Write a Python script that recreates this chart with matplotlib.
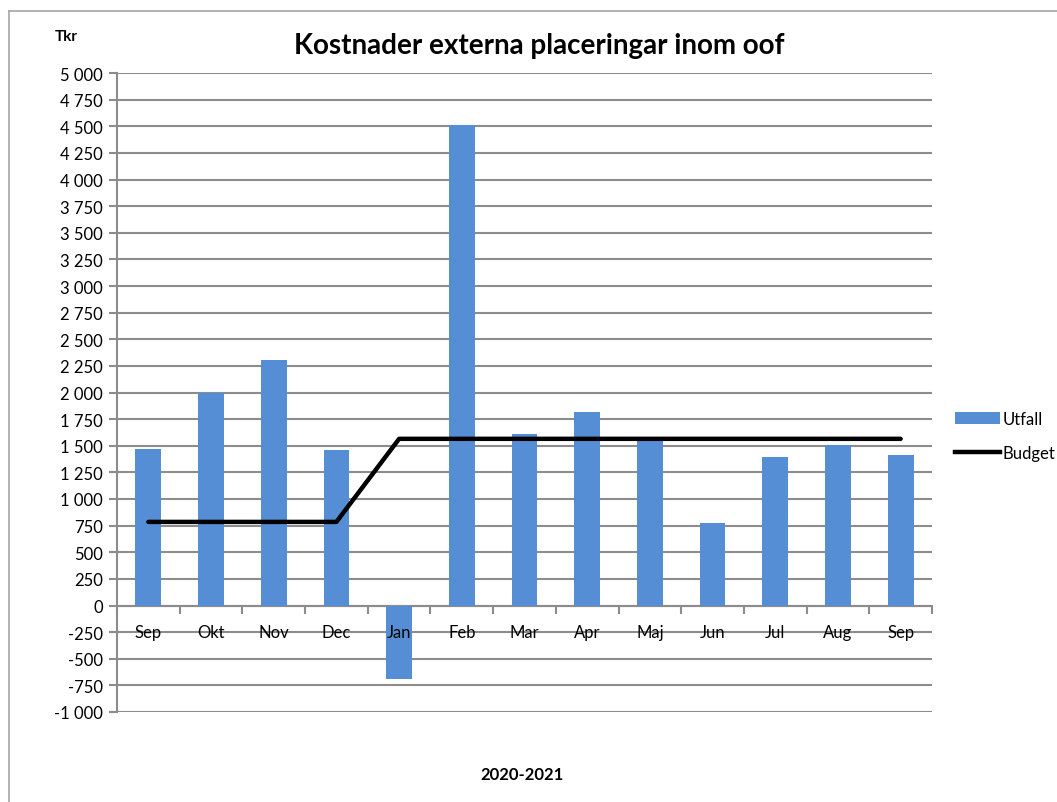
import matplotlib
matplotlib.use("Agg")
import matplotlib.pyplot as plt
from matplotlib.lines import Line2D
from matplotlib.patches import Patch
import numpy as np

categories = ["Sep", "Okt", "Nov", "Dec", "Jan", "Feb", "Mar", "Apr", "Maj", "Jun", "Jul", "Aug", "Sep"]
utfall = [1470, 2000, 2305, 1460, -690, 4510, 1610, 1820, 1565, 770, 1390, 1510, 1415]
budget = [785, 785, 785, 785, 1565, 1565, 1565, 1565, 1565, 1565, 1565, 1565, 1565]
yticks = list(range(-1000, 5001, 250))

def fmt(v):
    s = f"{abs(v):,}".replace(",", " ")
    return ("-" if v < 0 else "") + s

plt.rcParams['font.family'] = ['Lato', 'DejaVu Sans']

fig = plt.figure(figsize=(10.57, 8.03), dpi=100)
# outer chart frame
fig.add_artist(Line2D([9/1057, 1.0], [1 - 12/803, 1 - 12/803], transform=fig.transFigure, color="#a6a6a6", lw=1.2))
fig.add_artist(Line2D([9/1057, 9/1057], [0, 1 - 12/803], transform=fig.transFigure, color="#a6a6a6", lw=1.2))

ax = fig.add_axes([117/1057, 1 - 713/803, (932 - 117)/1057, (713 - 74)/803])
x = np.arange(len(categories))
ax.bar(x, utfall, width=0.41, color="#558ED5", zorder=2)
ax.plot(x, budget, color="black", lw=3.2, zorder=3, solid_capstyle="round")

ax.set_xlim(-0.5, len(categories) - 0.5)
ax.set_ylim(-1000, 5000)
ax.set_yticks(yticks)
ax.set_yticklabels([fmt(v) for v in yticks], fontsize=12)
ax.grid(axis="y", color="#8c8c8c", lw=1.5, zorder=0)
ax.set_axisbelow(True)

for s in ["top", "right"]:
    ax.spines[s].set_visible(False)
ax.spines["left"].set_color("#8c8c8c")
ax.spines["left"].set_linewidth(1.5)
ax.spines["bottom"].set_color("#8c8c8c")
ax.spines["bottom"].set_linewidth(1.5)
ax.spines["bottom"].set_position(("data", 0))
ax.spines["bottom"].set_zorder(1)

ax.set_xticks(x)
ax.set_xticklabels(categories, fontsize=12)
ax.set_xticks(np.arange(-0.5, len(categories) + 0.5, 1), minor=True)
ax.tick_params(axis="x", which="major", length=0, pad=13)
ax.tick_params(axis="x", which="minor", length=6, width=1.5, color="#8c8c8c", direction="out")
ax.tick_params(axis="y", length=6, width=1.5, color="#8c8c8c", pad=4)
ax.xaxis.set_zorder(4)

fig.text(539/1057, 1 - 46/803, "Kostnader externa placeringar inom oof", ha="center", va="center",
         fontsize=20, fontweight="bold")
fig.text(66/1057, 1 - 37/803, "Tkr", ha="center", va="center", fontsize=11, fontweight="bold")
fig.text(522/1057, 1 - 775/803, "2020-2021", ha="center", va="center", fontsize=12, fontweight="bold")

handles = [Patch(facecolor="#558ED5"), Line2D([0], [0], color="black", lw=3.2)]
fig.legend(handles, ["Utfall", "Budget"], loc="center left", bbox_to_anchor=(955/1057, 1 - 437/803),
           frameon=False, fontsize=12, handlelength=2.7, handletextpad=0.15, labelspacing=1.1,
           borderpad=0, borderaxespad=0)

fig.savefig("out.png", dpi=100)
